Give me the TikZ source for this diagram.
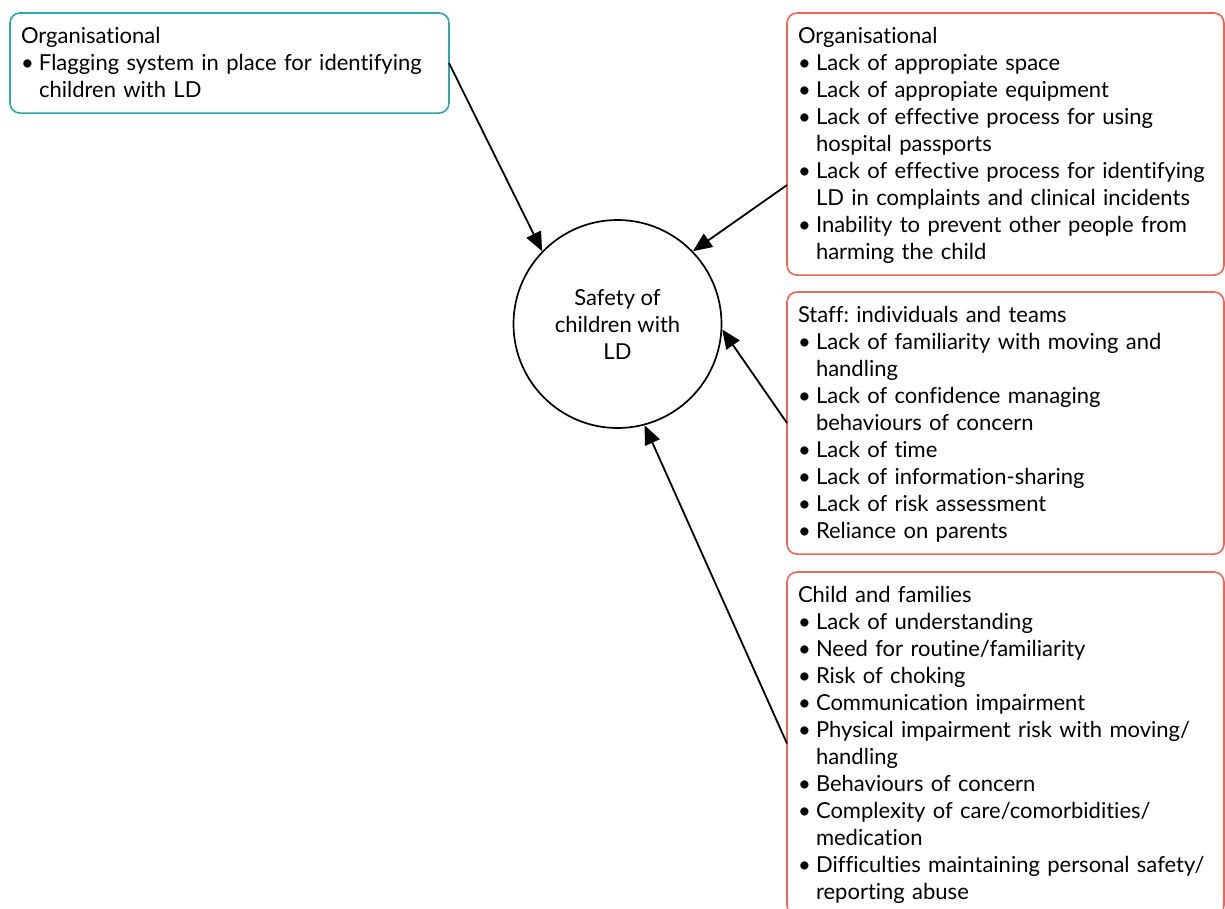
\documentclass[tikz,border=0pt]{standalone}
\usepackage{fontspec}
\setmainfont{Lato}[Ligatures=NoCommon]
\usetikzlibrary{arrows.meta}

\definecolor{tealline}{RGB}{44,168,170}
\definecolor{redline}{RGB}{234,102,88}

\frenchspacing
% one list entry: bullet in a fixed-width slot, continuation lines indented
\newcommand\itm{\strut\makebox[18pt][l]{\textbullet}}
\newcommand\cnt{\strut\hspace*{18pt}}
% heading line, with a little extra room above it
\newcommand\hd[1]{\rule{0pt}{22pt}#1}

\tikzset{
  factor/.style={draw, line width=1.6pt, rounded corners=10pt,
    inner xsep=11pt, inner ysep=8pt, outer sep=0pt,
    align=left, anchor=north west,
    font=\fontsize{22}{27}\selectfont},
  enabler/.style={factor, draw=tealline, text width=417pt},
  barrier/.style={factor, draw=redline, text width=415pt},
  focus/.style={draw, circle, line width=1.7pt, minimum size=208pt,
    align=center, font=\fontsize{22}{27}\selectfont},
  arr/.style={line width=1.8pt, -{Triangle[length=19pt,width=16pt]}}
}

\begin{document}
\begin{tikzpicture}[x=1pt,y=-1pt]
\useasboundingbox (0,0) rectangle (1225,908);

\node[focus] (c) at (617.5,324) {Safety of\\children with\\LD};

\node[enabler] (org1) at (10,13) {\hd{Organisational}\\
\itm Flagging system in place for identifying\\
\cnt children with LD};

\node[barrier] (org2) at (787,13) {\hd{Organisational}\\
\itm Lack of appropiate space\\
\itm Lack of appropiate equipment\\
\itm Lack of effective process for using\\
\cnt hospital passports\\
\itm Lack of effective process for identifying\\
\cnt LD in complaints and clinical incidents\\
\itm Inability to prevent other people from\\
\cnt harming the child};

\node[barrier] (staff) at (787,292) {\hd{Staff: individuals and teams}\\
\itm Lack of familiarity with moving and\\
\cnt handling\\
\itm Lack of confidence managing\\
\cnt behaviours of concern\\
\itm Lack of time\\
\itm Lack of information-sharing\\
\itm Lack of risk assessment\\
\itm Reliance on parents};

\node[barrier] (child) at (787,572) {\hd{Child and families}\\
\itm Lack of understanding\\
\itm Need for routine/familiarity\\
\itm Risk of choking\\
\itm Communication impairment\\
\itm Physical impairment risk with moving/\\
\cnt handling\\
\itm Behaviours of concern\\
\itm Complexity of care/comorbidities/\\
\cnt medication\\
\itm Difficulties maintaining personal safety/\\
\cnt reporting abuse};

\draw[arr] (org1.east) -- (c.136);
\draw[arr] ([yshift=-41pt]org2.west) -- (c.44);
\draw[arr] (staff.west) -- (c.-3);
\draw[arr] (child.west) -- (c.-75);
\end{tikzpicture}
\end{document}
